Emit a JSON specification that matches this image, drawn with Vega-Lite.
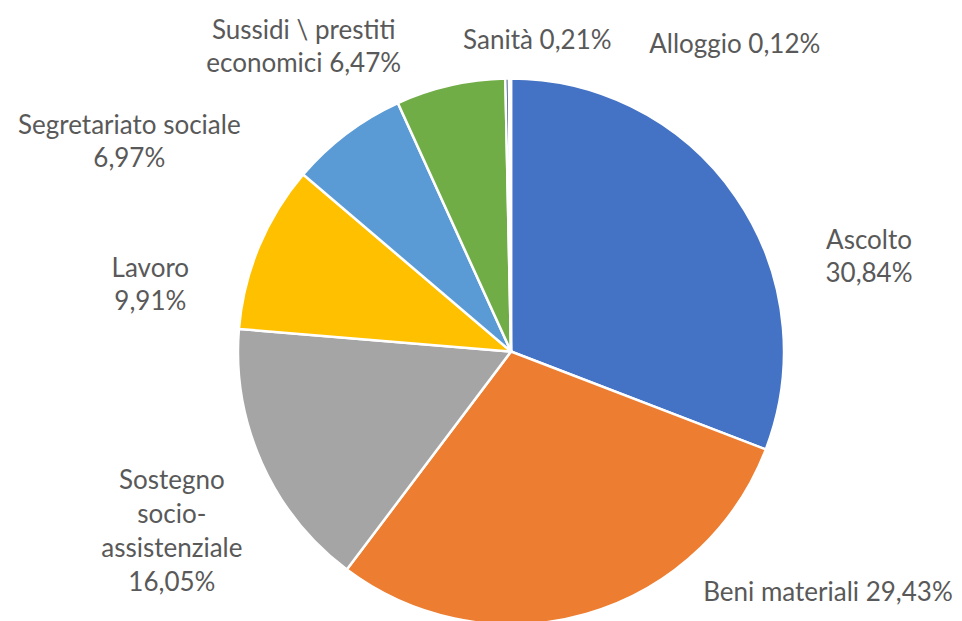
{
  "$schema": "https://vega.github.io/schema/vega-lite/v6.json",
  "width": 902,
  "height": 539,
  "padding": {"left": 60, "top": 82, "right": 0, "bottom": 0},
  "autosize": {"type": "none"},
  "background": "white",
  "config": {"view": {"stroke": null}},
  "data": {
    "values": [
      {"category": "Ascolto", "value": 30.84, "label": "Ascolto\n30,84%"},
      {"category": "Beni materiali", "value": 29.43, "label": "Beni materiali 29,43%"},
      {"category": "Sostegno socio-assistenziale", "value": 16.05, "label": "Sostegno\nsocio-\nassistenziale\n16,05%"},
      {"category": "Lavoro", "value": 9.91, "label": "Lavoro\n9,91%"},
      {"category": "Segretariato sociale", "value": 6.97, "label": "Segretariato sociale\n6,97%"},
      {"category": "Sussidi \\ prestiti economici", "value": 6.47, "label": "Sussidi \\ prestiti\neconomici 6,47%"},
      {"category": "Sanità", "value": 0.21, "label": "Sanità 0,21%"},
      {"category": "Alloggio", "value": 0.12, "label": "Alloggio 0,12%"}
    ]
  },
  "encoding": {
    "theta": {"field": "value", "type": "quantitative", "stack": true},
    "order": {"field": "value", "type": "quantitative", "sort": "descending"}
  },
  "layer": [
    {
      "mark": {"type": "arc", "outerRadius": 273, "stroke": "white", "strokeWidth": 2.5},
      "encoding": {
        "color": {
          "field": "category",
          "type": "nominal",
          "legend": null,
          "scale": {
            "domain": ["Ascolto", "Beni materiali", "Sostegno socio-assistenziale", "Lavoro", "Segretariato sociale", "Sussidi \\ prestiti economici", "Sanità", "Alloggio"],
            "range": ["#4472C4", "#ED7D31", "#A5A5A5", "#FFC000", "#5B9BD5", "#70AD47", "#264478", "#9E480E"]
          }
        }
      }
    },
    {
      "mark": {"type": "text", "radius": 330, "dx": 86, "dy": 76, "font": "Lato", "fontSize": 26, "fill": "#595959", "lineBreak": "\n", "lineHeight": 33, "align": "center", "baseline": "middle"},
      "encoding": {"text": {"condition": {"test": "datum.category === 'Ascolto'", "field": "label"}, "value": ""}}
    },
    {
      "mark": {"type": "text", "radius": 330, "dx": 226, "dy": -76, "font": "Lato", "fontSize": 26, "fill": "#595959", "lineBreak": "\n", "lineHeight": 33, "align": "center", "baseline": "middle"},
      "encoding": {"text": {"condition": {"test": "datum.category === 'Beni materiali'", "field": "label"}, "value": ""}}
    },
    {
      "mark": {"type": "text", "radius": 330, "dx": -38, "dy": -5, "font": "Lato", "fontSize": 26, "fill": "#595959", "lineBreak": "\n", "lineHeight": 34, "align": "center", "baseline": "middle"},
      "encoding": {"text": {"condition": {"test": "datum.category === 'Sostegno socio-assistenziale'", "field": "label"}, "value": ""}}
    },
    {
      "mark": {"type": "text", "radius": 330, "dx": -56, "dy": 44, "font": "Lato", "fontSize": 26, "fill": "#595959", "lineBreak": "\n", "lineHeight": 33, "align": "center", "baseline": "middle"},
      "encoding": {"text": {"condition": {"test": "datum.category === 'Lavoro'", "field": "label"}, "value": ""}}
    },
    {
      "mark": {"type": "text", "radius": 330, "dx": -183, "dy": 38, "font": "Lato", "fontSize": 26, "fill": "#595959", "lineBreak": "\n", "lineHeight": 33, "align": "center", "baseline": "middle"},
      "encoding": {"text": {"condition": {"test": "datum.category === 'Segretariato sociale'", "field": "label"}, "value": ""}}
    },
    {
      "mark": {"type": "text", "radius": 330, "dx": -134, "dy": 1, "font": "Lato", "fontSize": 26, "fill": "#595959", "lineBreak": "\n", "lineHeight": 33, "align": "center", "baseline": "middle"},
      "encoding": {"text": {"condition": {"test": "datum.category === 'Sussidi \\\\ prestiti economici'", "field": "label"}, "value": ""}}
    },
    {
      "mark": {"type": "text", "radius": 330, "dx": 31, "dy": 19, "font": "Lato", "fontSize": 26, "fill": "#595959", "lineBreak": "\n", "lineHeight": 33, "align": "center", "baseline": "middle"},
      "encoding": {"text": {"condition": {"test": "datum.category === 'Sanità'", "field": "label"}, "value": ""}}
    },
    {
      "mark": {"type": "text", "radius": 330, "dx": 225, "dy": 23, "font": "Lato", "fontSize": 26, "fill": "#595959", "lineBreak": "\n", "lineHeight": 33, "align": "center", "baseline": "middle"},
      "encoding": {"text": {"condition": {"test": "datum.category === 'Alloggio'", "field": "label"}, "value": ""}}
    }
  ]
}
